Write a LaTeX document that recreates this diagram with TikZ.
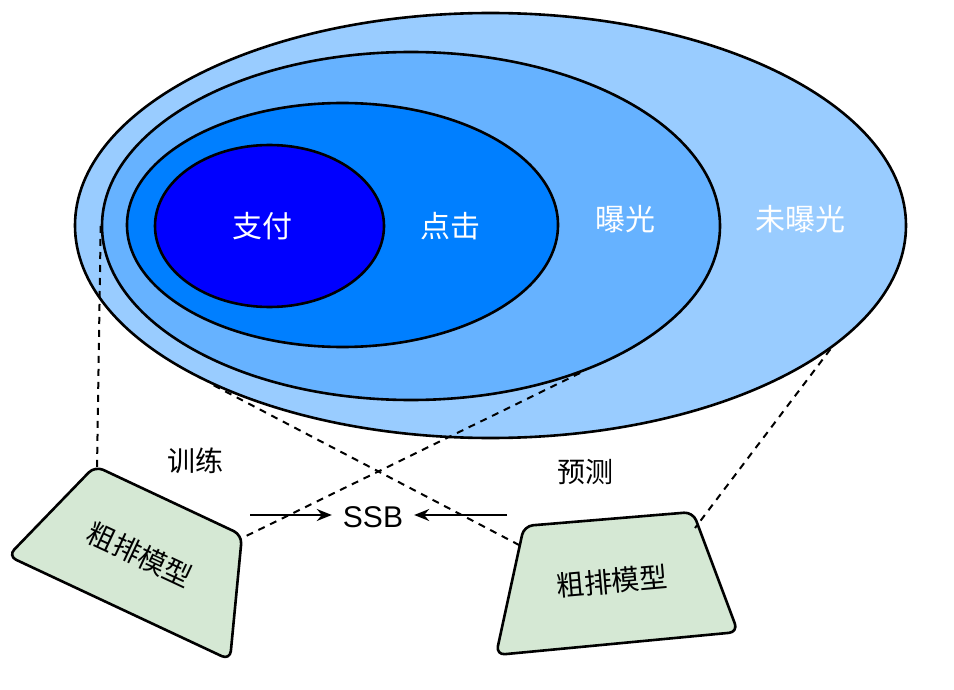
\documentclass[tikz,border=0pt]{standalone}
\usepackage{fontspec}
\newfontfamily\cjk{Noto Sans CJK SC}
\newfontfamily\lat{Liberation Sans}
\usetikzlibrary{shapes.geometric,arrows.meta}
\definecolor{cOuter}{HTML}{99CCFF}
\definecolor{cExp}{HTML}{66B2FF}
\definecolor{cClick}{HTML}{007FFF}
\definecolor{cPay}{HTML}{0000FF}
\definecolor{cTrap}{HTML}{D5E8D4}
\tikzset{
  ell/.style={ellipse, draw=black, line width=2.6pt, inner sep=0pt},
  wlabel/.style={text=white, font=\cjk\fontsize{30pt}{34pt}\selectfont, inner sep=0pt},
  blabel/.style={text=black, font=\cjk\fontsize{28pt}{32pt}\selectfont, inner sep=0pt},
  trap/.style={draw=black, line width=2.6pt, fill=cTrap, rounded corners=9pt, line join=round},
  dashline/.style={draw=black, line width=2pt, dash pattern=on 7pt off 6pt},
  arr/.style={draw=black, line width=2pt, -{Stealth[length=15pt,width=12pt,inset=5pt]}}
}
\begin{document}
\begin{tikzpicture}[x=1pt,y=-1pt]
\useasboundingbox (0,0) rectangle (954,690);
% ellipses
\node[ell, fill=cOuter, minimum width=831pt, minimum height=425pt] (outer) at (490.5,225.5) {};
\node[ell, fill=cExp, minimum width=618pt, minimum height=348pt] (exp) at (411,226) {};
\node[ell, fill=cClick, minimum width=431pt, minimum height=244pt] (click) at (342.5,225) {};
\node[ell, fill=cPay, minimum width=229pt, minimum height=162pt] (pay) at (269.5,226) {};
\node[wlabel] (tpay) at (262,226) {支付};
\node[wlabel] (tclick) at (450,226) {点击};
\node[wlabel] (texp) at (625,219) {曝光};
\node[wlabel] (tun) at (800,219) {未曝光};
% left trapezoid
\coordinate (l1) at (95,466);
\coordinate (l2) at (242,535);
\coordinate (l3) at (230,660);
\coordinate (l4) at (8,556);
\path[trap] (l1) -- (l2) -- (l3) -- (l4) -- cycle;
\node[blabel, rotate=-25] (lmodel) at (140,555) {粗排模型};
% right trapezoid
\coordinate (r1) at (524,526);
\coordinate (r2) at (693,512);
\coordinate (r3) at (738,632);
\coordinate (r4) at (496,655);
\path[trap] (r1) -- (r2) -- (r3) -- (r4) -- cycle;
\node[blabel, rotate=5] (rmodel) at (612,581) {粗排模型};
% labels
\node[blabel] (train) at (195,461) {训练};
\node[blabel] (pred) at (585,472) {预测};
\node[font=\lat\fontsize{30pt}{34pt}\selectfont, inner xsep=11pt, inner ysep=0pt] (ssb) at (373,517) {SSB};
% dashed connectors
\coordinate (lTL) at (97,469);
\coordinate (lTR) at (240,539);
\coordinate (rL) at (521,546);
\coordinate (rR) at (695,528);
\draw[dashline] (exp.west) -- (lTL);
\draw[dashline] (exp.-41.5) -- (lTR);
\draw[dashline] (outer.210) -- (rL);
\draw[dashline] (outer.-20) -- (rR);
% arrows
\coordinate (aL) at (250,515);
\coordinate (aR) at (507,515);
\draw[arr] (aL) -- (ssb.west |- aL);
\draw[arr] (aR) -- (ssb.east |- aR);
\end{tikzpicture}
\end{document}
